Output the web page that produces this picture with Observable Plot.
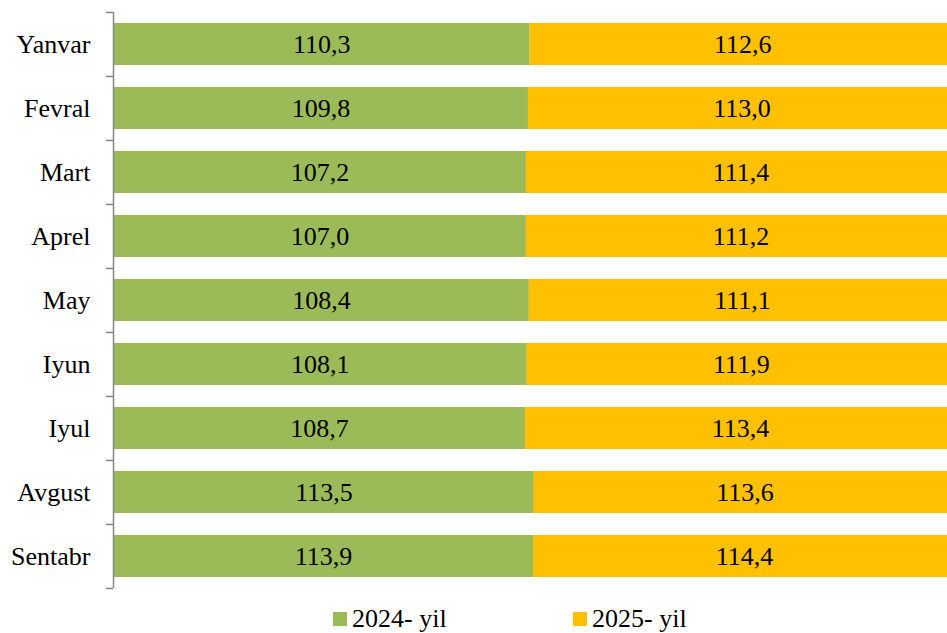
<!DOCTYPE html>
<html>
<head>
<meta charset="utf-8">
<script src="https://cdn.jsdelivr.net/npm/d3@7"></script>
<script src="https://cdn.jsdelivr.net/npm/@observablehq/plot@0.6"></script>
<style>
  html, body { margin: 0; padding: 0; background: #fff; overflow: hidden; }
  #wrap { position: relative; width: 947px; height: 633px; font-family: 'Liberation Serif', serif; }
  .leg { position: absolute; top: 606px; height: 26px; line-height: 26px; font-size: 26px; color: #000; display: flex; align-items: center; white-space: nowrap; font-family: 'Liberation Serif', serif; }
  .sw { width: 14px; height: 14px; margin-right: 5px; }
  svg text { font-family: 'Liberation Serif', serif; }
</style>
</head>
<body>
<div id="wrap"></div>
<script>
const months = ["Yanvar", "Fevral", "Mart", "Aprel", "May", "Iyun", "Iyul", "Avgust", "Sentabr"];
const years = ["2024- yil", "2025- yil"];
const values2024 = [110.3, 109.8, 107.2, 107.0, 108.4, 108.1, 108.7, 113.5, 113.9];
const values2025 = [112.6, 113.0, 111.4, 111.2, 111.1, 111.9, 113.4, 113.6, 114.4];
const colors = ["#9BBB59", "#FFC000"];
const FONT = "'Liberation Serif', serif";

const data = [];
months.forEach((m, i) => {
  data.push({month: m, year: years[0], value: values2024[i]});
  data.push({month: m, year: years[1], value: values2025[i]});
});
const fmt = v => v.toFixed(1).replace(".", ",");

const stackOpts = {offset: "normalize", x: "value", y: "month", z: "year"};

const chart = Plot.plot({
  width: 947,
  height: 600,
  marginTop: 12,
  marginBottom: 12,
  marginLeft: 113,
  marginRight: 0,
  style: "font-family: 'Liberation Serif', serif; font-size: 26px; color: #000; background: #fff;",
  x: {domain: [0, 1], range: [113, 955], axis: null},
  y: {domain: months, paddingInner: 0.344, paddingOuter: 0.172, label: null},
  color: {domain: years, range: colors},
  marks: [
    Plot.barX(data, Plot.stackX({...stackOpts, fill: "year"})),
    Plot.textX(data, Plot.stackX({...stackOpts, text: d => fmt(d.value), fill: "#000", fontSize: 26, fontFamily: FONT})),
    Plot.axisY({tickSize: 0, tickPadding: 23, label: null, fontSize: 26, fontFamily: FONT}),
    Plot.axisY({tickSize: 7, text: null, label: null, dy: -32, stroke: "#868686", strokeWidth: 1.5}),
    Plot.axisY([months[months.length - 1]], {tickSize: 7, text: null, label: null, dy: 32, stroke: "#868686", strokeWidth: 1.5}),
    Plot.ruleX([0], {stroke: "#868686", strokeWidth: 1.5})
  ]
});

const wrap = document.getElementById("wrap");
wrap.appendChild(chart);
const legPos = [333, 573];
years.forEach((y, i) => {
  const item = document.createElement("div");
  item.className = "leg";
  item.style.left = legPos[i] + "px";
  const sw = document.createElement("div");
  sw.className = "sw";
  sw.style.background = colors[i];
  const t = document.createElement("span");
  t.textContent = y;
  item.appendChild(sw);
  item.appendChild(t);
  wrap.appendChild(item);
});
</script>
</body>
</html>
